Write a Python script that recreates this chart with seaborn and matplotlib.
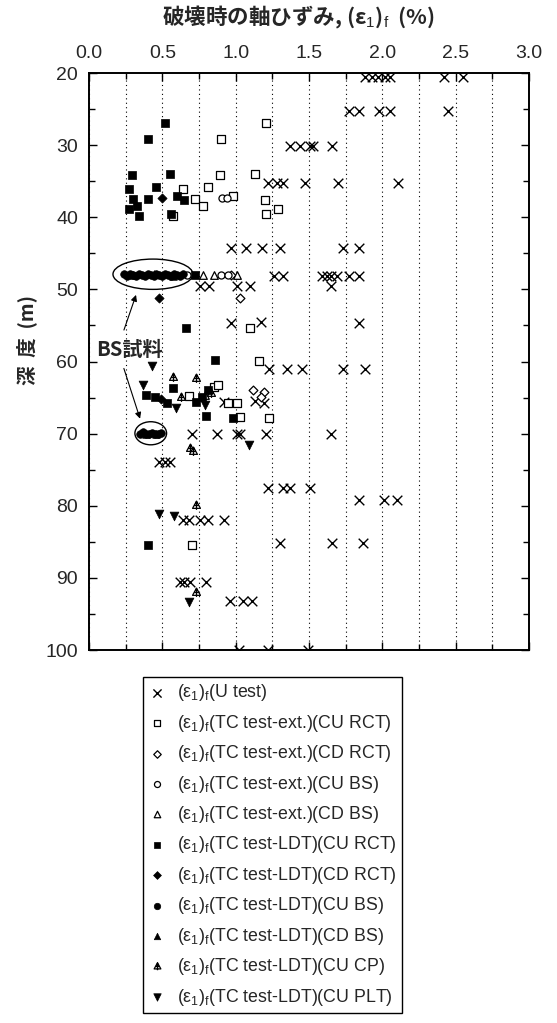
import numpy as np
import matplotlib
matplotlib.use('Agg')
import matplotlib.pyplot as plt
import seaborn as sns
from matplotlib.patches import Ellipse
from matplotlib.path import Path
from matplotlib.markers import MarkerStyle
from matplotlib.ticker import MultipleLocator

sns.set_style('ticks')
plt.rcParams['font.family'] = ['Liberation Sans', 'Noto Sans CJK JP', 'DejaVu Sans']
plt.rcParams['mathtext.fontset'] = 'custom'
plt.rcParams['mathtext.rm'] = 'Liberation Sans'
plt.rcParams['mathtext.it'] = 'Liberation Sans:italic'
plt.rcParams['mathtext.bf'] = 'Liberation Sans:bold'

# ---------------- data ----------------
u_x = [1.88, 1.93, 1.97, 2.02, 2.05, 2.42, 2.55,
       1.77, 1.84, 1.98, 2.05, 2.45,
       1.37, 1.44, 1.51, 1.53, 1.66,
       1.22, 1.28, 1.32, 1.47, 1.70, 2.11,
       0.97, 1.07, 1.18, 1.30, 1.73, 1.84,
       1.26, 1.32, 1.59, 1.62, 1.65, 1.69, 1.77, 1.84,
       0.76, 0.82, 1.01, 1.10, 1.65,
       0.97, 1.17, 1.84,
       1.23, 1.35, 1.45, 1.73, 1.88,
       0.92, 1.13, 1.19,
       0.70, 0.87, 1.01, 1.03, 1.21, 1.65,
       0.48, 0.52, 0.55,
       1.22, 1.32, 1.37, 1.51,
       1.84, 2.01, 2.10,
       0.64, 0.68, 0.76, 0.81, 0.92,
       1.30, 1.66, 1.87,
       0.62, 0.65, 0.69, 0.80,
       0.96, 1.05, 1.11,
       1.02, 1.22, 1.49]
u_y = [20.6, 20.6, 20.6, 20.6, 20.6, 20.6, 20.6,
       25.2, 25.2, 25.2, 25.2, 25.2,
       30.1, 30.1, 30.1, 30.1, 30.1,
       35.2, 35.2, 35.2, 35.2, 35.2, 35.2,
       44.2, 44.2, 44.2, 44.2, 44.2, 44.2,
       48.1, 48.1, 48.1, 48.1, 48.1, 48.1, 48.1, 48.1,
       49.5, 49.5, 49.5, 49.5, 49.6,
       54.6, 54.5, 54.7,
       61.1, 61.1, 61.1, 61.1, 61.1,
       65.6, 65.5, 65.7,
       70.1, 70.1, 70.1, 70.1, 70.1, 70.1,
       74.0, 74.0, 74.0,
       77.6, 77.6, 77.6, 77.6,
       79.2, 79.2, 79.2,
       82.0, 82.0, 82.0, 82.0, 82.0,
       85.1, 85.2, 85.2,
       90.6, 90.6, 90.6, 90.6,
       93.2, 93.2, 93.2,
       100.0, 100.0, 100.0]

ext_cu_rct_x = [1.21, 0.90, 0.89, 1.13, 0.81, 0.64, 0.98, 0.72, 1.20, 0.78, 1.29, 1.21,
                0.57, 1.10, 1.16, 0.68, 0.85, 0.88, 0.95, 1.01, 1.03, 1.23, 0.70]
ext_cu_rct_y = [27.0, 29.2, 34.2, 34.0, 35.8, 36.1, 37.0, 37.5, 37.6, 38.4, 38.9, 39.6,
                39.8, 55.4, 59.9, 64.8, 63.5, 63.3, 65.8, 65.8, 67.7, 67.8, 85.5]

ext_cd_rct_x = [0.97, 1.03, 1.12, 1.19, 1.17]
ext_cd_rct_y = [48.0, 51.2, 64.0, 64.2, 64.9]

ext_cu_bs_x = [0.91, 0.94, 0.67, 0.90, 0.95]
ext_cu_bs_y = [37.4, 37.3, 48.0, 48.0, 48.0]

ext_cd_bs_x = [0.78, 0.85, 1.01, 0.79]
ext_cd_bs_y = [48.0, 48.0, 48.0, 64.7]

ldt_cu_rct_x = [0.52, 0.40, 0.29, 0.55, 0.27, 0.46, 0.30, 0.40, 0.60, 0.65, 0.27, 0.33, 0.34,
                0.56, 0.72, 0.66, 0.86, 0.39, 0.45, 0.53, 0.575, 0.73, 0.77, 0.81, 0.80,
                0.98, 0.40]
ldt_cu_rct_y = [27.0, 29.2, 34.2, 34.0, 36.1, 35.8, 37.5, 37.5, 37.0, 37.6, 38.9, 38.5, 39.8,
                39.6, 48.0, 55.3, 59.8, 64.7, 64.9, 65.7, 63.7, 65.6, 64.9, 64.0, 67.5,
                67.8, 85.5]

ldt_cd_rct_x = [0.50, 0.48, 0.49]
ldt_cd_rct_y = [37.4, 51.2, 65.2]

ldt_cu_bs_x = [0.24, 0.26, 0.28, 0.30, 0.32, 0.34, 0.36, 0.38, 0.40, 0.42, 0.44, 0.46, 0.48,
               0.50, 0.52, 0.54, 0.56, 0.58, 0.60, 0.62, 0.64,
               0.35, 0.37, 0.39, 0.41, 0.43, 0.45, 0.47, 0.49]
ldt_cu_bs_y = [47.9, 48.1, 47.8, 48.0, 48.2, 47.9, 48.0, 48.1, 47.8, 48.0, 48.2, 47.9, 48.0,
               48.1, 47.9, 48.0, 48.2, 47.9, 48.0, 48.1, 47.9,
               70.0, 69.8, 70.1, 70.0, 69.9, 70.1, 70.0, 69.9]

ldt_cd_bs_x = [0.30, 0.44, 0.57, 0.39, 0.46]
ldt_cd_bs_y = [48.0, 47.9, 48.1, 70.0, 70.0]

ldt_cu_cp_x = [0.575, 0.73, 0.63, 0.83, 0.69, 0.71, 0.73, 0.73]
ldt_cu_cp_y = [62.1, 62.3, 64.9, 64.3, 72.0, 72.4, 79.9, 92.0]

ldt_cu_plt_x = [0.43, 0.37, 0.59, 0.79, 1.09, 0.48, 0.58, 0.68]
ldt_cu_plt_y = [60.6, 63.2, 66.5, 66.1, 71.6, 81.2, 81.4, 93.3]

x_ticks = [0.0, 0.5, 1.0, 1.5, 2.0, 2.5, 3.0]
y_ticks = [20, 30, 40, 50, 60, 70, 80, 90, 100]

pre = r'(ε$_{\rm 1}$)$_{\rm f}$'
labels = [pre + '(U test)',
          pre + '(TC test-ext.)(CU RCT)',
          pre + '(TC test-ext.)(CD RCT)',
          pre + '(TC test-ext.)(CU BS)',
          pre + '(TC test-ext.)(CD BS)',
          pre + '(TC test-LDT)(CU RCT)',
          pre + '(TC test-LDT)(CD RCT)',
          pre + '(TC test-LDT)(CU BS)',
          pre + '(TC test-LDT)(CD BS)',
          pre + '(TC test-LDT)(CU CP)',
          pre + '(TC test-LDT)(CU PLT)']

# custom marker: triangle with cross
cp_path = Path([(0, 1), (-0.9, -0.65), (0.9, -0.65), (0, 1),
                (0, 1), (0, -1.0), (-0.45, 0.0), (0.45, 0.0)],
               [Path.MOVETO, Path.LINETO, Path.LINETO, Path.CLOSEPOLY,
                Path.MOVETO, Path.LINETO, Path.MOVETO, Path.LINETO])
cp_marker = MarkerStyle(cp_path)

series = [
    (u_x, u_y, 'x', 'line', 48),
    (ext_cu_rct_x, ext_cu_rct_y, 's', 'open', 26),
    (ext_cd_rct_x, ext_cd_rct_y, 'D', 'open', 20),
    (ext_cu_bs_x, ext_cu_bs_y, 'o', 'open', 26),
    (ext_cd_bs_x, ext_cd_bs_y, '^', 'open', 30),
    (ldt_cu_rct_x, ldt_cu_rct_y, 's', 'fill', 32),
    (ldt_cd_rct_x, ldt_cd_rct_y, 'D', 'fill', 22),
    (ldt_cu_bs_x, ldt_cu_bs_y, 'o', 'fill', 30),
    (ldt_cd_bs_x, ldt_cd_bs_y, '^', 'fill', 30),
    (ldt_cu_cp_x, ldt_cu_cp_y, cp_marker, 'open', 40),
    (ldt_cu_plt_x, ldt_cu_plt_y, 'v', 'fill', 40),
]

fig = plt.figure(figsize=(5.57, 10.23), dpi=100)
ax = fig.add_axes([89 / 557, 1 - 650 / 1023, 440 / 557, 577 / 1023])

for (xs, ys, mk, kind, s), lab in zip(series, labels):
    if kind == 'line':
        sns.scatterplot(x=xs, y=ys, ax=ax, marker=mk, s=s, color='black',
                        linewidth=1.0, label=lab, zorder=3)
    elif kind == 'open':
        sns.scatterplot(x=xs, y=ys, ax=ax, marker=mk, s=s, facecolor='white',
                        edgecolor='black', linewidth=0.9, label=lab, zorder=3)
    else:
        sns.scatterplot(x=xs, y=ys, ax=ax, marker=mk, s=s, color='black',
                        edgecolor='black', linewidth=0.5, label=lab, zorder=4)

ax.set_xlim(0, 3.0)
ax.set_ylim(100, 20)
ax.set_xticks(x_ticks)
ax.set_xticklabels([f'{v:.1f}' for v in x_ticks])
ax.set_yticks(y_ticks)
ax.set_yticklabels([str(v) for v in y_ticks])
ax.xaxis.set_minor_locator(MultipleLocator(0.25))
ax.yaxis.set_minor_locator(MultipleLocator(5))
ax.tick_params(axis='x', which='both', top=True, bottom=True, labeltop=True,
               labelbottom=False, direction='in')
ax.tick_params(axis='y', which='both', left=True, right=True, labelleft=True,
               labelright=False, direction='in')
ax.tick_params(which='major', length=6, width=1.0, labelsize=14, pad=8, color='black')
ax.tick_params(which='minor', length=4, width=1.0, color='black')
ax.xaxis.grid(True, which='both', linestyle=(0, (1, 3)), color='black', linewidth=0.8)
ax.yaxis.grid(False)
ax.set_axisbelow(True)
for sp in ax.spines.values():
    sp.set_linewidth(1.4)
    sp.set_color('black')
ax.set_xlabel('')

ax.set_ylabel('深  度  (m)', fontsize=14, family='Noto Sans CJK JP', fontweight='bold',
              va='center')
ax.yaxis.set_label_coords(-0.141, 0.537)

fig.text(298 / 557, 1 - 17 / 1023, '破壊時の軸ひずみ, (ε$_{\\rm 1}$)$_{\\rm f}$  (%)',
         ha='center', va='center', fontsize=15.5, family='Noto Sans CJK JP',
         fontweight='bold')

# annotations: BS sample ellipses and arrows
ax.add_patch(Ellipse((0.436, 47.9), 0.545, 4.2, fill=False, edgecolor='black',
                     linewidth=1.0, zorder=5))
ax.add_patch(Ellipse((0.421, 69.95), 0.216, 3.2, fill=False, edgecolor='black',
                     linewidth=1.0, zorder=5))
ax.text(0.279, 58.3, 'BS試料', ha='center', va='center', fontsize=14.5,
        family='Noto Sans CJK JP', fontweight='bold', zorder=6)
ax.annotate('', xy=(0.327, 50.4), xytext=(0.232, 56.0),
            arrowprops=dict(arrowstyle='-|>', color='black', lw=0.8, mutation_scale=9))
ax.annotate('', xy=(0.354, 68.3), xytext=(0.232, 60.6),
            arrowprops=dict(arrowstyle='-|>', color='black', lw=0.8, mutation_scale=9))

leg = ax.legend(loc='upper left', bbox_to_anchor=(143 / 557, 1 - 677 / 1023),
                bbox_transform=fig.transFigure, fontsize=12.8, frameon=True,
                fancybox=False, framealpha=1, edgecolor='black', borderpad=0.3,
                handlelength=0.95, handletextpad=0.65, labelspacing=0.53,
                markerscale=0.85, scatterpoints=1, borderaxespad=0)
leg.get_frame().set_linewidth(1.0)

fig.savefig('out.png', dpi=100)
